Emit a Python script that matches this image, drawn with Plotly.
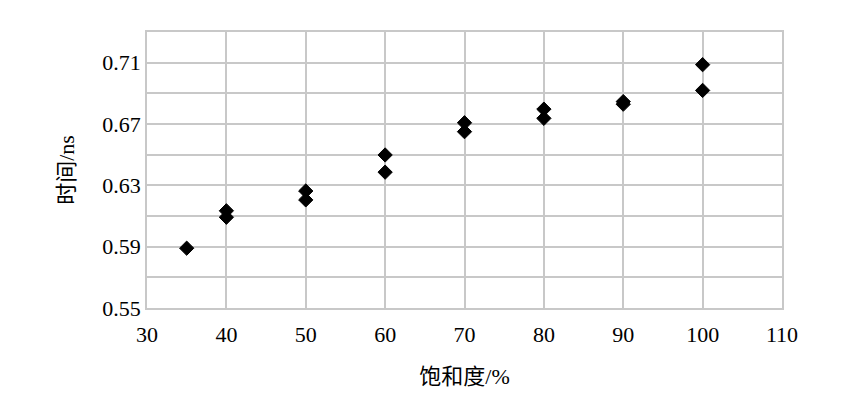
import plotly.graph_objects as go

saturation = [35, 40, 40, 50, 50, 60, 60, 70, 70, 80, 80, 90, 90, 100, 100]
time_ns = [0.589, 0.6134, 0.6092, 0.6263, 0.6205, 0.6498, 0.6386, 0.6708, 0.6650,
           0.6797, 0.6737, 0.6846, 0.6829, 0.7087, 0.6919]

x_ticks = [30, 40, 50, 60, 70, 80, 90, 100, 110]
y_ticks = [0.55, 0.59, 0.63, 0.67, 0.71]

FONT = "Liberation Serif, Times New Roman, Noto Sans CJK SC, serif"
GRID = "#c8c8c8"

fig = go.Figure()
fig.add_trace(go.Scatter(
    x=saturation, y=time_ns, mode="markers",
    marker=dict(symbol="diamond", size=11, color="black",
                line=dict(color="black", width=1)),
    showlegend=False,
))

fig.update_layout(
    width=850, height=397,
    margin=dict(l=147, r=68, t=32, b=87),
    paper_bgcolor="white", plot_bgcolor="white",
    font=dict(family=FONT, size=22, color="black"),
    xaxis=dict(
        range=[30, 110], tickvals=x_ticks, ticktext=[str(v) for v in x_ticks],
        showgrid=True, gridcolor=GRID, gridwidth=1.5,
        showline=True, linecolor=GRID, linewidth=1.5, mirror=True,
        zeroline=False, ticks="outside", ticklen=6, tickcolor="rgba(0,0,0,0)",
        tickfont=dict(family=FONT, size=22),
        title=dict(text="饱和度/%", font=dict(family=FONT, size=22), standoff=22),
    ),
    yaxis=dict(
        range=[0.55, 0.73], tickvals=y_ticks, ticktext=[f"{v:.2f}" for v in y_ticks],
        showgrid=True, gridcolor=GRID, gridwidth=1.5,
        minor=dict(tickvals=[0.57, 0.61, 0.65, 0.69, 0.73], showgrid=True,
                   gridcolor=GRID, gridwidth=1.5),
        showline=True, linecolor=GRID, linewidth=1.5, mirror=True,
        zeroline=False, ticks="", ticklen=0,
        tickfont=dict(family=FONT, size=22),
        title=dict(text="时间/ns", font=dict(family=FONT, size=22), standoff=22),
    ),
)

fig.write_html("out.html")
